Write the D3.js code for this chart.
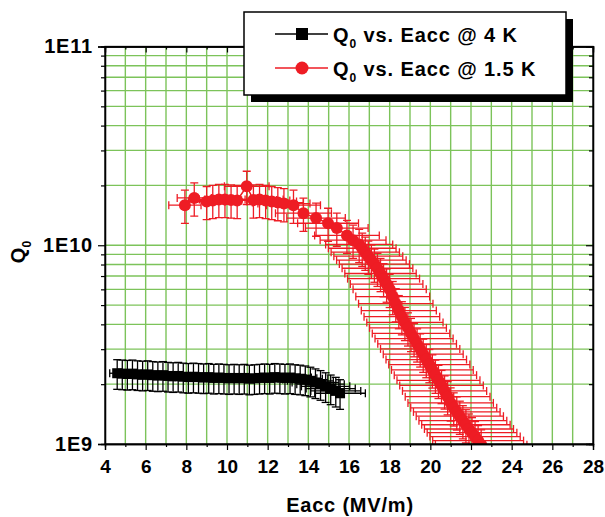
<!DOCTYPE html>
<html><head><meta charset="utf-8">
<script src="https://cdn.jsdelivr.net/npm/d3@7"></script>
<style>body{margin:0;background:#fff}svg{display:block}text{font-family:"Liberation Sans",Arial,sans-serif;font-weight:bold;fill:#000}</style>
</head><body><svg id="c" width="605" height="517"></svg>
<script>
// ---- data ----
const xTicks = [4,6,8,10,12,14,16,18,20,22,24,26,28];
const yTicks = [1e9,1e10,1e11];
const yTickLabels = ["1E9","1E10","1E11"];
const seriesNames = ["Q\u2080 vs. Eacc @ 4 K","Q\u2080 vs. Eacc @ 1.5 K"];

const blackE = [4.60,4.85,5.10,5.35,5.60,5.85,6.10,6.35,6.60,6.85,7.10,7.35,7.60,7.85,8.10,8.35,8.60,8.85,9.10,9.35,9.60,9.85,10.10,10.35,10.60,10.85,11.10,11.35,11.60,11.85,12.10,12.35,12.60,12.85,13.10,13.35,13.60,13.85,14.10,14.35,14.60,14.85,15.10,15.35,15.56];
const blackQ = [2.27,2.26,2.25,2.26,2.24,2.23,2.24,2.22,2.21,2.22,2.20,2.19,2.20,2.18,2.17,2.18,2.17,2.16,2.17,2.15,2.16,2.15,2.14,2.15,2.14,2.15,2.13,2.14,2.15,2.16,2.15,2.17,2.16,2.15,2.16,2.14,2.13,2.11,2.08,2.04,2.00,1.95,1.90,1.85,1.80]; // x 1E9

const redE = [7.93,8.39,9.00,9.30,9.60,9.90,10.20,10.50,10.97,11.30,11.60,11.90,12.20,12.50,12.80,13.27,13.76,14.38,14.97,15.40,15.90,16.20,
  16.50,16.65,16.80,16.95,17.10,17.25,17.40,17.55,17.70,17.85,18.00,18.15,18.30,18.45,18.60,18.75,18.90,19.05,19.20,19.35,19.50,19.65,19.80,19.95,20.10,20.25,20.40,20.55,20.70,20.85,21.00,21.15,21.30,21.45,21.60,21.75,21.90,22.05,22.20,22.35,22.50];
const redQ = [15.9,17.3,16.6,16.8,17.0,17.0,16.9,16.8,19.8,16.9,17.0,16.8,16.6,16.4,16.2,15.9,14.5,13.7,12.9,12.2,11.2,10.6,
  10.1,9.66,9.23,8.81,8.41,8.04,7.66,7.21,6.79,6.38,6.00,5.52,5.08,4.69,4.37,4.09,3.84,3.60,3.39,3.19,3.01,2.83,2.66,2.51,2.36,2.22,2.09,1.97,1.85,1.73,1.61,1.52,1.45,1.38,1.31,1.25,1.19,1.14,1.09,1.04,0.99]; // x 1E9

const blackErrE = 0.08, blackErrQ = 0.17; // relative
const redErrE = 0.10, redErrQ = 0.19;

// ---- chart ----
const svg = d3.select("#c");
const L=105, R=593, T=46.5, B=444;
const x = d3.scaleLinear().domain([4,28]).range([L,R]);
const y = d3.scaleLog().domain([1e9,1e11]).range([B,T]);
const green = "#7cc35a", red = "#ee1c24";

// grid
const gx = d3.range(5,28);
const gy = [];
[1e9,1e10].forEach(d=>{for(let k=2;k<=9;k++)gy.push(d*k)}); gy.push(1e10);
const grid = svg.append("g").attr("stroke",green).attr("stroke-width",1.4);
grid.selectAll(".v").data(gx).join("line").attr("x1",d=>x(d)).attr("x2",d=>x(d)).attr("y1",T).attr("y2",B);
grid.selectAll(".h").data(gy).join("line").attr("y1",d=>y(d)).attr("y2",d=>y(d)).attr("x1",L).attr("x2",R);

// clip
svg.append("clipPath").attr("id","pc").append("rect").attr("x",L).attr("y",T).attr("width",R-L).attr("height",B-T);
const plot = svg.append("g").attr("clip-path","url(#pc)");

function drawSeries(E,Q,ex,eq,color,cap,sw){
  const pts = E.map((e,i)=>({e,q:Q[i]*1e9}));
  const g = plot.append("g").attr("stroke",color).attr("stroke-width",sw).attr("fill","none");
  pts.forEach(p=>{
    const cx=x(p.e), cy=y(p.q);
    const x0=x(p.e*(1-ex)), x1=x(p.e*(1+ex));
    const y0=y(p.q*(1+eq)), y1=y(p.q*(1-eq));
    g.append("line").attr("x1",x0).attr("x2",x1).attr("y1",cy).attr("y2",cy);
    g.append("line").attr("x1",x0).attr("x2",x0).attr("y1",cy-cap).attr("y2",cy+cap);
    g.append("line").attr("x1",x1).attr("x2",x1).attr("y1",cy-cap).attr("y2",cy+cap);
    g.append("line").attr("x1",cx).attr("x2",cx).attr("y1",y0).attr("y2",y1);
    g.append("line").attr("x1",cx-cap).attr("x2",cx+cap).attr("y1",y0).attr("y2",y0);
    g.append("line").attr("x1",cx-cap).attr("x2",cx+cap).attr("y1",y1).attr("y2",y1);
  });
  plot.append("path").datum(pts).attr("fill","none").attr("stroke",color).attr("stroke-width",1.5)
    .attr("d",d3.line().x(d=>x(d.e)).y(d=>y(d.q)));
  return pts;
}
const bp = drawSeries(blackE,blackQ,blackErrE,blackErrQ,"#000",4,1.3);
plot.selectAll(".sq").data(bp).join("rect").attr("x",d=>x(d.e)-5).attr("y",d=>y(d.q)-5).attr("width",10).attr("height",10).attr("fill","#000");
const rp = drawSeries(redE,redQ,redErrE,redErrQ,red,4,1.3);
plot.selectAll(".ci").data(rp).join("circle").attr("cx",d=>x(d.e)).attr("cy",d=>y(d.q)).attr("r",6).attr("fill",red);

// frame
svg.append("rect").attr("x",L).attr("y",T).attr("width",R-L).attr("height",B-T).attr("fill","none").attr("stroke","#000").attr("stroke-width",1.3);

// axes
const yMinor = gy.filter(d=>d!==1e10);
const axL = svg.append("g").attr("transform",`translate(${L},0)`)
  .call(d3.axisLeft(y).tickValues(yTicks).tickFormat((d,i)=>yTickLabels[i]).tickSize(7).tickPadding(5));
svg.append("g").attr("transform",`translate(${L},0)`).call(d3.axisLeft(y).tickValues(yMinor).tickFormat("").tickSize(4));
svg.append("g").attr("transform",`translate(${R},0)`).call(d3.axisLeft(y).tickValues(yTicks).tickFormat("").tickSize(7));
svg.append("g").attr("transform",`translate(${R},0)`).call(d3.axisLeft(y).tickValues(yMinor).tickFormat("").tickSize(4));
const axB = svg.append("g").attr("transform",`translate(0,${B})`)
  .call(d3.axisBottom(x).tickValues(xTicks).tickFormat(d3.format("d")).tickSize(6).tickPadding(10));
svg.append("g").attr("transform",`translate(0,${B})`).call(d3.axisBottom(x).tickValues(d3.range(5,28,2)).tickFormat("").tickSize(3));
svg.append("g").attr("transform",`translate(0,${T})`).call(d3.axisBottom(x).tickValues(xTicks).tickFormat("").tickSize(6));
svg.append("g").attr("transform",`translate(0,${T})`).call(d3.axisBottom(x).tickValues(d3.range(5,28,2)).tickFormat("").tickSize(3));
svg.selectAll(".domain").attr("stroke","#000").attr("stroke-width",1.3);
svg.selectAll(".tick line").attr("stroke","#000").attr("stroke-width",1.2);
axL.selectAll("text").style("font-size","20px").style("letter-spacing","0.8px").style("font-family","Liberation Sans, Arial").style("font-weight","bold").attr("fill","#000");
axB.selectAll("text").style("font-size","19px").style("font-family","Liberation Sans, Arial").style("font-weight","bold").attr("fill","#000");

// axis titles
svg.append("text").attr("x",350).attr("y",512).attr("text-anchor","middle").style("font-size","20px").style("letter-spacing","0.8px").text("Eacc (MV/m)");
const yt = svg.append("text").attr("transform","translate(25,252) rotate(-90)").attr("text-anchor","middle").style("font-size","20px");
yt.append("tspan").text("Q");
yt.append("tspan").text("0").style("font-size","12px").attr("dy",6);

// legend
svg.append("rect").attr("x",251).attr("y",19).attr("width",322).attr("height",83).attr("fill","#000");
svg.append("rect").attr("x",244).attr("y",12).attr("width",322).attr("height",83).attr("fill","#fff").attr("stroke","#000").attr("stroke-width",1.5);
const leg = [{c:"#000",y:34,m:"sq"},{c:red,y:68,m:"ci"}];
leg.forEach((l,i)=>{
  svg.append("line").attr("x1",275).attr("x2",328).attr("y1",l.y).attr("y2",l.y).attr("stroke",l.c).attr("stroke-width",1.5);
  if(l.m==="sq") svg.append("rect").attr("x",296).attr("y",l.y-6).attr("width",12).attr("height",12).attr("fill",l.c);
  else svg.append("circle").attr("cx",302).attr("cy",l.y).attr("r",6.5).attr("fill",l.c);
  const t = svg.append("text").attr("x",333).attr("y",l.y+8).style("font-size","20px").style("letter-spacing","0.9px");
  const parts = seriesNames[i].split("\u2080");
  t.append("tspan").text(parts[0]);
  t.append("tspan").text("0").style("font-size","12px").attr("dy",6);
  t.append("tspan").text(parts[1]).attr("dy",-6);
});
</script></body></html>
